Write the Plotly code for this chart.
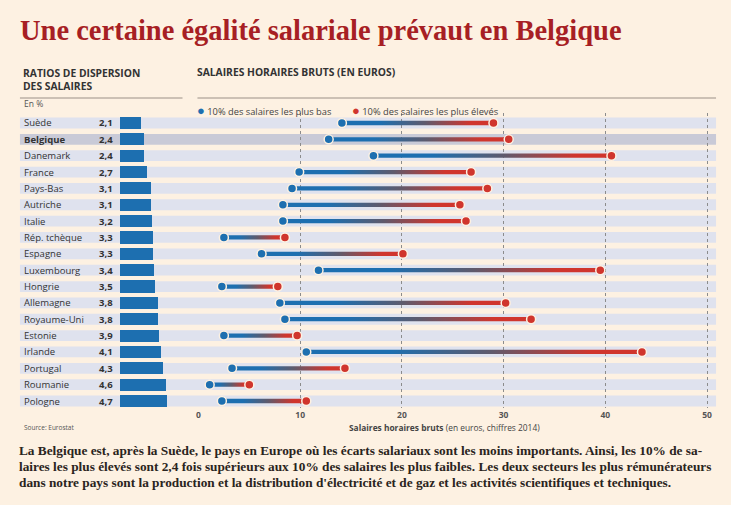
import plotly.graph_objects as go

# Données (Eurostat, 2014)
countries = ["Suède", "Belgique", "Danemark", "France", "Pays-Bas", "Autriche", "Italie",
             "Rép. tchèque", "Espagne", "Luxembourg", "Hongrie", "Allemagne", "Royaume-Uni",
             "Estonie", "Irlande", "Portugal", "Roumanie", "Pologne"]
ratios = [2.1, 2.4, 2.4, 2.7, 3.1, 3.1, 3.2, 3.3, 3.3, 3.4, 3.5, 3.8, 3.8, 3.9, 4.1, 4.3, 4.6, 4.7]
low_10 = [14.1, 12.8, 17.2, 9.9, 9.2, 8.3, 8.3, 2.5, 6.2, 11.8, 2.3, 8.0, 8.5, 2.5, 10.6, 3.3, 1.1, 2.3]
high_10 = [29.0, 30.5, 40.6, 26.8, 28.4, 25.7, 26.3, 8.5, 20.1, 39.5, 7.8, 30.2, 32.7, 9.7, 43.6, 14.4, 5.0, 10.6]
ticks = [0, 10, 20, 30, 40, 50]

W, H = 731, 505
BG = "#fdf1e2"
BLUE = "#1d6fb0"
RED = "#d0352d"
SANS = "Open Sans"
SERIF = "Liberation Serif"


def px(p):
    return p / W


def py(p):
    return 1 - p / H


ypos = [-i for i in range(len(countries))]
row_h = (401 - 123) / (len(countries) - 1)

fig = go.Figure()

# barres du ratio de dispersion
fig.add_trace(go.Bar(x=ratios, y=ypos, orientation="h", width=0.74,
                     marker=dict(color=BLUE, line=dict(width=0)),
                     xaxis="x", yaxis="y", hoverinfo="skip", showlegend=False))

# segments en dégradé entre les deux déciles
h = 0.13
for lo, hi, y in zip(low_10, high_10, ypos):
    fig.add_trace(go.Scatter(x=[lo, hi, hi, lo, lo], y=[y - h, y - h, y + h, y + h, y - h],
                             mode="lines", fill="toself", line=dict(width=0),
                             fillgradient=dict(type="horizontal",
                                               colorscale=[[0, BLUE], [0.25, BLUE], [0.55, "#5f5a6c"], [0.85, RED], [1, RED]]),
                             xaxis="x2", yaxis="y", hoverinfo="skip", showlegend=False))

fig.add_trace(go.Scatter(x=low_10, y=ypos, mode="markers", name="10% des salaires les plus bas",
                         marker=dict(size=9, color=BLUE, line=dict(width=1.5, color=BG)),
                         xaxis="x2", yaxis="y", showlegend=False))
fig.add_trace(go.Scatter(x=high_10, y=ypos, mode="markers", name="10% des salaires les plus élevés",
                         marker=dict(size=9, color=RED, line=dict(width=1.5, color=BG)),
                         xaxis="x2", yaxis="y", showlegend=False))

# bandes de fond
shapes = []
for c, y in zip(countries, ypos):
    shapes.append(dict(type="rect", xref="paper", yref="y", x0=px(18), x1=px(716),
                       y0=y - 0.33, y1=y + 0.33, line=dict(width=0), layer="below",
                       fillcolor="#c9cad7" if c == "Belgique" else "#dfe2ee"))
shapes.append(dict(type="line", xref="paper", yref="paper", x0=px(18), x1=px(181), y0=py(98), y1=py(98),
                   line=dict(color="#9b9087", width=1)))
shapes.append(dict(type="line", xref="paper", yref="paper", x0=px(196), x1=px(716), y0=py(98), y1=py(98),
                   line=dict(color="#9b9087", width=1)))

ann = []
ann.append(dict(text="<b>Une certaine égalité salariale prévaut en Belgique</b>", x=px(16), y=py(30),
                xanchor="left", yanchor="middle", font=dict(family=SERIF, size=28.5, color="#a71f24")))
ann.append(dict(text="<b>RATIOS DE DISPERSION<br>DES SALAIRES</b>", x=px(19), y=py(64), xanchor="left",
                yanchor="top", align="left", font=dict(family=SANS, size=10.3, color="#333333")))
ann.append(dict(text="<b>SALAIRES HORAIRES BRUTS (EN EUROS)</b>", x=px(194), y=py(72), xanchor="left",
                yanchor="middle", font=dict(family=SANS, size=10.3, color="#333333")))
ann.append(dict(text="En %", x=px(20), y=py(104), xanchor="left", yanchor="middle",
                font=dict(family=SANS, size=8.5, color="#555555")))
ann.append(dict(text=f"<span style='color:{BLUE};font-size:13px'>●</span> 10% des salaires les plus bas",
                x=px(194), y=py(110), xanchor="left", yanchor="middle",
                font=dict(family=SANS, size=9.3, color="#444444")))
ann.append(dict(text=f"<span style='color:{RED};font-size:13px'>●</span> 10% des salaires les plus élevés",
                x=px(349), y=py(110), xanchor="left", yanchor="middle",
                font=dict(family=SANS, size=9.3, color="#444444")))
for c, r, y in zip(countries, ratios, ypos):
    label = f"<b>{c}</b>" if c == "Belgique" else c
    ann.append(dict(text=label, x=px(20), y=y, yref="y", xanchor="left", yanchor="middle",
                    font=dict(family=SANS, size=9.5, color="#333333")))
    ann.append(dict(text="<b>" + f"{r:.1f}".replace(".", ",") + "</b>", x=px(113), y=y, yref="y",
                    xanchor="right", yanchor="middle", font=dict(family=SANS, size=9.5, color="#333333")))
ann.append(dict(text="Source: Eurostat", x=px(20), y=py(427), xanchor="left", yanchor="middle",
                font=dict(family=SANS, size=6.5, color="#555555")))
ann.append(dict(text="<b>Salaires horaires bruts</b> (en euros, chiffres 2014)", x=px(346), y=py(427),
                xanchor="left", yanchor="middle", font=dict(family=SANS, size=8.4, color="#444444")))
caption = [
    "La Belgique est, après la Suède, le pays en Europe où les écarts salariaux sont les moins importants. Ainsi, les 10% de sa-",
    "laires les plus élevés sont 2,4 fois supérieurs aux 10% des salaires les plus faibles. Les deux secteurs les plus rémunérateurs",
    "dans notre pays sont la production et la distribution d'électricité et de gaz et les activités scientifiques et techniques.",
]
for i, line in enumerate(caption):
    ann.append(dict(text="<b>" + line + "</b>", x=px(15), y=py(450 + 16 * i), xanchor="left", yanchor="middle",
                    font=dict(family=SERIF, size=13.3, color="#2a2420")))
for a in ann:
    a.setdefault("xref", "paper")
    a.setdefault("yref", "paper")
    a["showarrow"] = False

y_top = (123 - 113) / row_h
y_bot = -(408 - 123) / row_h

fig.update_layout(
    width=W, height=H, margin=dict(l=0, r=0, t=0, b=0),
    paper_bgcolor=BG, plot_bgcolor="rgba(0,0,0,0)",
    bargap=0, shapes=shapes, annotations=ann,
    xaxis=dict(domain=[px(118), px(190)], range=[0, 7.2], visible=False, anchor="y", fixedrange=True),
    xaxis2=dict(domain=[px(197), px(716)], range=[0, (716 - 197) / 10.2], anchor="y",
                tickvals=ticks, ticktext=[f"<b>{t}</b>" for t in ticks],
                tickfont=dict(family=SANS, size=8.5, color="#555555"),
                showgrid=True, gridcolor="#8c8c8c", griddash="dot", gridwidth=1,
                zeroline=False, showline=False, ticks=""),
    yaxis=dict(domain=[py(408), py(113)], range=[y_bot, y_top], visible=False),
)

fig.write_html("out.html", config={"displayModeBar": False},
               post_script="document.body.style.margin='0px';")
